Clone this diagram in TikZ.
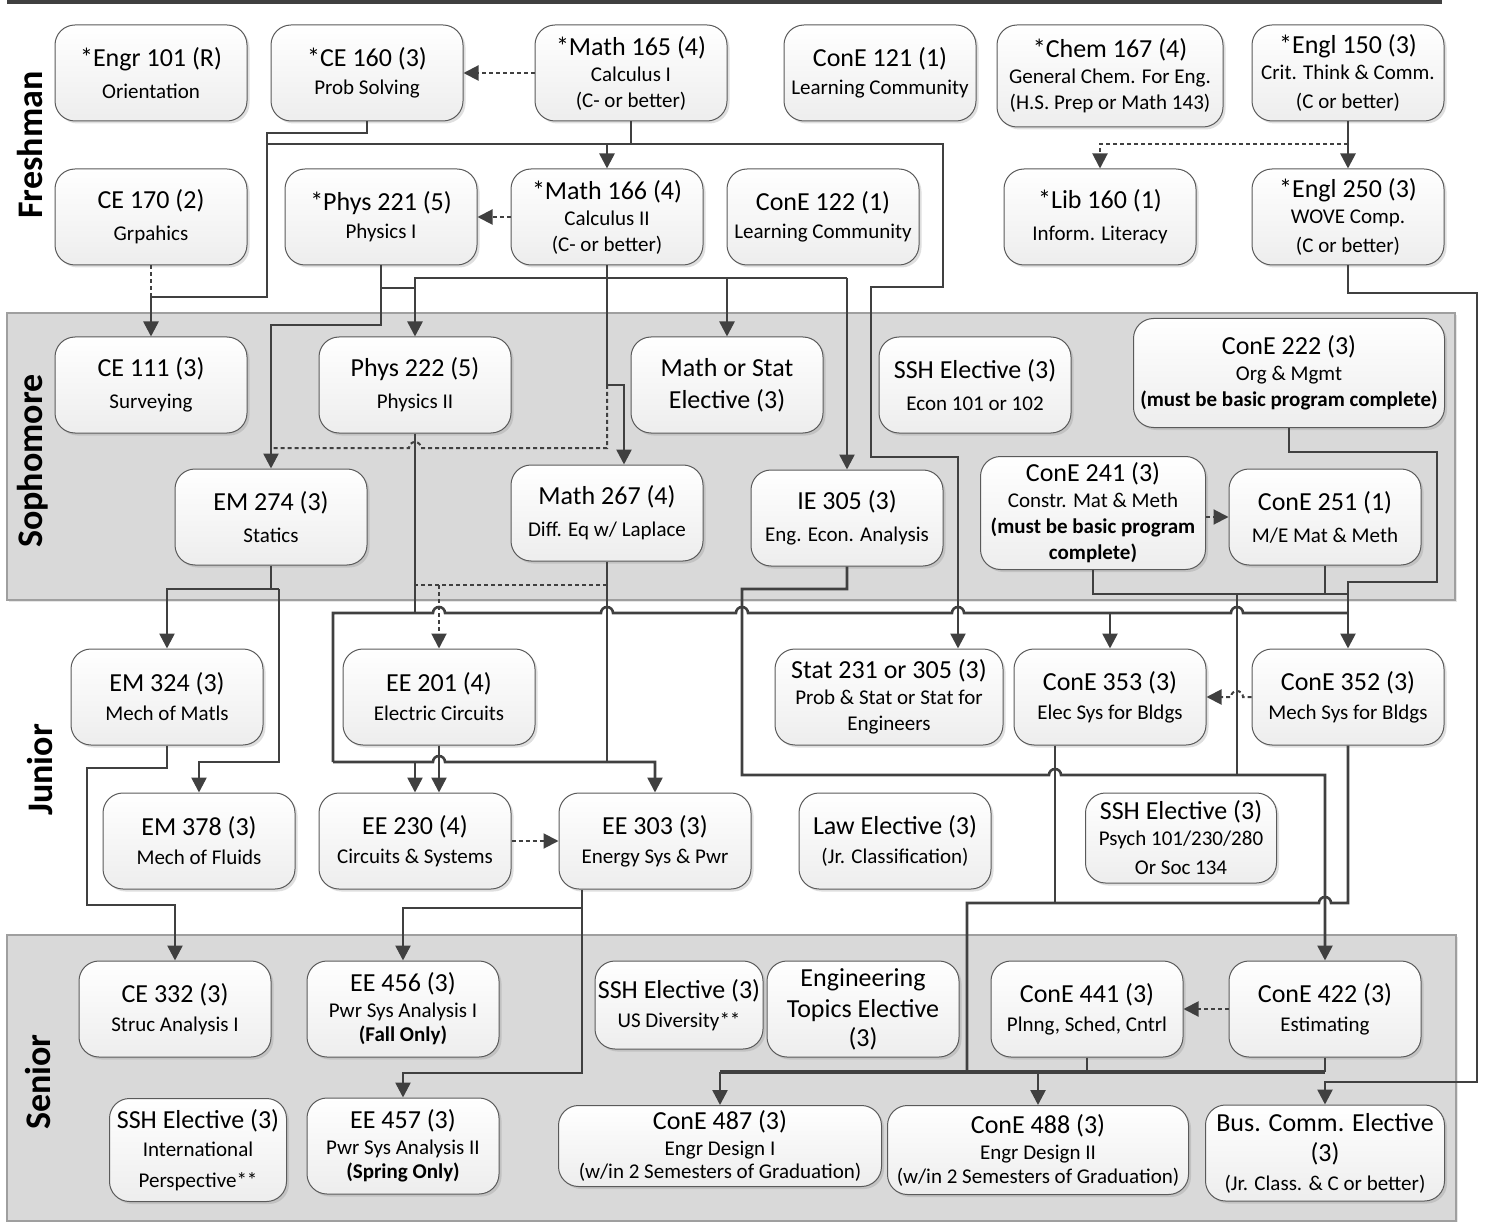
\documentclass[tikz,border=0pt]{standalone}
\usepackage{fontspec}
\setmainfont{Carlito}
\usetikzlibrary{arrows.meta,shadows}
\definecolor{lnc}{HTML}{404040}
\definecolor{bdc}{HTML}{5A5A5A}
\definecolor{bandc}{HTML}{D9D9D9}
\newcommand{\mn}[1]{{\fontsize{26}{30}\selectfont #1}}

\begin{document}
\begin{tikzpicture}[x=1pt, y=-1pt, >={Triangle[length=15pt,width=15pt]},
    crs/.style={draw=bdc, line width=1pt, rounded corners=20pt, top color=white, bottom color=gray!14,
        drop shadow={shadow xshift=2.5pt, shadow yshift=-2.5pt, opacity=.25},
        minimum width=192pt, minimum height=96pt, inner sep=1pt, align=center,
        font=\fontsize{21}{26}\selectfont},
    band/.style={draw=gray!75, line width=1.5pt, fill=bandc,
        drop shadow={shadow xshift=2pt, shadow yshift=-2pt, opacity=.2}},
    yr/.style={rotate=90, font=\fontsize{36}{42}\selectfont\bfseries},
    ln/.style={draw=lnc, line width=2.6pt},
    dl/.style={draw=lnc, line width=2pt, dash pattern=on 4pt off 3pt}]
    \useasboundingbox (0,0) rectangle (1486,1222);
    \fill[lnc] (7,0) rectangle (1442,4);
    \draw[band] (7,313) rectangle (1455,600);
    \draw[band] (7,935) rectangle (1456,1221);
    \node[yr] (fresh) at (30,145) {Freshman};
    \node[yr] (soph) at (33,461) {Sophomore};
    \node[yr] (jun) at (40,770) {Junior};
    \node[yr] (sen) at (38,1082) {Senior};

    % freshman
    \node[crs] (engr101) at (151,73) {\mn{*Engr 101 (R)}\\[6pt]Orientation};
    \node[crs] (ce160) at (367,73) {\mn{*CE 160 (3)}\\[2pt]Prob Solving};
    \node[crs] (math165) at (631,73) {\mn{*Math 165 (4)}\\Calculus I\\(C- or better)};
    \node[crs] (cone121) at (880,73) {\mn{ConE 121 (1)}\\[2pt]Learning Community};
    \node[crs, minimum width=226pt, minimum height=102pt] (chem167) at (1110,76) {\mn{*Chem 167 (4)}\\General Chem. For Eng.\\(H.S. Prep or Math 143)};
    \node[crs] (engl150) at (1348,73) {\mn{*Engl 150 (3)}\\Crit. Think \& Comm.\\[3pt](C or better)};
    \node[crs] (ce170) at (151,217) {\mn{CE 170 (2)}\\[6pt]Grpahics};
    \node[crs] (phys221) at (381,217) {\mn{*Phys 221 (5)}\\[2pt]Physics I};
    \node[crs] (math166) at (607,217) {\mn{*Math 166 (4)}\\Calculus II\\(C- or better)};
    \node[crs] (cone122) at (823,217) {\mn{ConE 122 (1)}\\[2pt]Learning Community};
    \node[crs] (lib160) at (1100,217) {\mn{*Lib 160 (1)}\\[6pt]Inform. Literacy};
    \node[crs] (engl250) at (1348,217) {\mn{*Engl 250 (3)}\\WOVE Comp.\\[3pt](C or better)};

    % sophomore
    \node[crs] (ce111) at (151,385) {\mn{CE 111 (3)}\\[6pt]Surveying};
    \node[crs] (phys222) at (415,385) {\mn{Phys 222 (5)}\\[6pt]Physics II};
    \node[crs] (mathstat) at (727,385) {\mn{Math or Stat}\\[6pt]\mn{Elective (3)}};
    \node[crs] (ssh1) at (975,385) {\mn{SSH Elective (3)}\\[6pt]Econ 101 or 102};
    \node[crs, minimum width=311pt, minimum height=109pt] (cone222) at (1289,373) {\mn{ConE 222 (3)}\\Org \& Mgmt\\\textbf{(must be basic program complete)}};
    \node[crs] (em274) at (271,517) {\mn{EM 274 (3)}\\[6pt]Statics};
    \node[crs] (math267) at (607,513) {\mn{Math 267 (4)}\\[6pt]Diff. Eq w/ Laplace};
    \node[crs] (ie305) at (847,518) {\mn{IE 305 (3)}\\[6pt]Eng. Econ. Analysis};
    \node[crs, minimum width=225pt, minimum height=113pt] (cone241) at (1093,513) {\mn{ConE 241 (3)}\\Constr. Mat \& Meth\\\textbf{(must be basic program}\\\textbf{complete)}};
    \node[crs] (cone251) at (1325,517) {\mn{ConE 251 (1)}\\[6pt]M/E Mat \& Meth};

    % junior
    \node[crs] (em324) at (167,697) {\mn{EM 324 (3)}\\[3pt]Mech of Matls};
    \node[crs] (ee201) at (439,697) {\mn{EE 201 (4)}\\[3pt]Electric Circuits};
    \node[crs, minimum width=228pt] (stat231) at (889,697) {\mn{Stat 231 or 305 (3)}\\Prob \& Stat or Stat for\\Engineers};
    \node[crs] (cone353) at (1110,697) {\mn{ConE 353 (3)}\\[3pt]Elec Sys for Bldgs};
    \node[crs] (cone352) at (1348,697) {\mn{ConE 352 (3)}\\[3pt]Mech Sys for Bldgs};
    \node[crs] (em378) at (199,841) {\mn{EM 378 (3)}\\[3pt]Mech of Fluids};
    \node[crs] (ee230) at (415,841) {\mn{EE 230 (4)}\\[3pt]Circuits \& Systems};
    \node[crs] (ee303) at (655,841) {\mn{EE 303 (3)}\\[3pt]Energy Sys \& Pwr};
    \node[crs] (law) at (895,841) {\mn{Law Elective (3)}\\[3pt](Jr. Classification)};
    \node[crs, minimum width=191pt, minimum height=90pt] (ssh2) at (1181,838) {\mn{SSH Elective (3)}\\Psych 101/230/280\\[3pt]Or Soc 134};

    % senior
    \node[crs] (ce332) at (175,1009) {\mn{CE 332 (3)}\\[3pt]Struc Analysis I};
    \node[crs] (ee456) at (403,1009) {\mn{EE 456 (3)}\\Pwr Sys Analysis I\\[-2pt]\textbf{(Fall Only)}};
    \node[crs, minimum width=168pt, minimum height=88pt] (ssh3) at (679,1005) {\mn{SSH Elective (3)}\\[3pt]US Diversity**};
    \node[crs] (engtop) at (863,1009) {\mn{Engineering}\\[5pt]\mn{Topics Elective}\\[3pt]\mn{(3)}};
    \node[crs] (cone441) at (1087,1009) {\mn{ConE 441 (3)}\\[3pt]Plnng, Sched, Cntrl};
    \node[crs] (cone422) at (1325,1009) {\mn{ConE 422 (3)}\\[3pt]Estimating};
    \node[crs, minimum width=177pt, minimum height=103pt] (ssh4) at (198,1150) {\mn{SSH Elective (3)}\\[2pt]International\\[5pt]Perspective**};
    \node[crs] (ee457) at (403,1146) {\mn{EE 457 (3)}\\Pwr Sys Analysis II\\[-2pt]\textbf{(Spring Only)}};
    \node[crs, minimum width=323pt, minimum height=81pt] (cone487) at (720,1146) {\mn{ConE 487 (3)}\\Engr Design I\\[-3pt](w/in 2 Semesters of Graduation)};
    \node[crs, minimum width=301pt, minimum height=89pt] (cone488) at (1038,1150) {\mn{ConE 488 (3)}\\Engr Design II\\[-2pt](w/in 2 Semesters of Graduation)};
    \node[crs, minimum width=239pt] (buscomm) at (1325,1153) {\mn{Bus. Comm. Elective}\\[4pt]\mn{(3)}\\[3pt](Jr. Class. \& C or better)};

    % freshman links
    \draw[dl,->] (math165.west) -- (ce160.east);
    \draw[dl,->] (math166.west) -- (phys221.east);
    \draw[ln,->] (ce160.south) -- (367,133) -- (267,133) -- (267,297) -- (151,297) -- (ce111.north);
    \draw[dl] (ce170.south) -- (151,297);
    \draw[ln] (math165.south) -- (631,144) -- (267,144);
    \draw[ln,->] (631,144) -- (607,144) -- (math166.north);
    \draw[ln,->] (631,144) -- (943,144) -- (943,287) -- (871,287) -- (871,457) -- (958,457) -- ([xshift=69pt]stat231.north);
    \draw[ln,->] (engl150.south) -- (engl250.north);
    \draw[dl,->] (1348,144) -- (1100,144) -- (lib160.north);
    \draw[ln,->] (engl250.south) -- (1348,293) -- (1477,293) -- (1477,1082) -- (1325,1082) -- (buscomm.north);
    \draw[ln,->] (phys221.south) -- (381,325) -- (271,325) -- (em274.north);
    \draw[ln,->] (381,288) -- (415,288) -- (phys222.north);
    \draw[ln] (415,288) -- (415,278) -- (847,278);
    \draw[ln,->] (727,278) -- (mathstat.north);
    \draw[ln,->] (847,278) -- (ie305.north);
    \draw[ln,->] (math166.south) -- (607,385) -- (624,385) -- ([xshift=17pt]math267.north);
    \draw[dl] (607,385) -- (607,448) -- (421,448) arc[start angle=0, end angle=180, radius=6pt] -- (271,448);

    % sophomore links
    \draw[ln] (phys222.south) -- (415,613);
    \draw[ln] (333,762) -- (333,613) -- (433,613) arc[start angle=180, end angle=0, radius=6pt]
        -- (601,613) arc[start angle=180, end angle=0, radius=6pt]
        -- (736,613) arc[start angle=180, end angle=0, radius=6pt]
        -- (952,613) arc[start angle=180, end angle=0, radius=6pt]
        -- (1231,613) arc[start angle=180, end angle=0, radius=6pt] -- (1348,613);
    \draw[ln,->] (1110,613) -- (cone353.north);
    \draw[dl] (607,585) -- (415,585);
    \draw[dl,->] (439,585) -- (ee201.north);
    \draw[ln] (math267.south) -- (607,762);
    \draw[ln] (em274.south) -- (271,589);
    \draw[ln,->] (279,589) -- (167,589) -- (em324.north);
    \draw[ln,->] (279,589) -- (279,762) -- (199,762) -- (em378.north);
    \draw[ln,->] (ie305.south) -- (847,589) -- (742,589) -- (742,775) -- (1049,775)
        arc[start angle=180, end angle=0, radius=6pt] -- (1325,775) -- (cone422.north);
    \draw[ln,->] (cone222.south) -- (1289,452) -- (1437,452) -- (1437,582) -- (1348,582) -- (cone352.north);
    \draw[ln] (cone241.south) -- (1093,594) -- (1348,594);
    \draw[ln] (cone251.south) -- (1325,594);
    \draw[ln] (1237,594) -- (1237,775);
    \draw[dl,->] (cone241.east |- cone251.west) -- (cone251.west);

    % junior links
    \draw[ln,->] (333,762) -- (433,762) arc[start angle=180, end angle=0, radius=6pt] -- (655,762) -- (ee303.north);
    \draw[ln,->] (415,762) -- (ee230.north);
    \draw[ln,->] (ee201.south) -- (ee201.south |- ee230.north);
    \draw[dl,->] (ee230.east) -- (ee303.west);
    \draw[dl,->] (cone352.west) -- (1243,697) arc[start angle=0, end angle=180, radius=6pt] -- (cone353.east);
    \draw[ln,->] (em324.south) -- (167,768) -- (87,768) -- (87,905) -- (175,905) -- (ce332.north);
    \draw[ln,->] ([xshift=-73pt]ee303.south) -- (582,908) -- (403,908) -- (ee456.north);
    \draw[ln,->] (582,908) -- (582,1073) -- (403,1073) -- (ee457.north);
    \draw[ln] ([xshift=-55pt]cone353.south) -- (1055,903);
    \draw[ln] (cone352.south) -- (1348,903) -- (1331,903) arc[start angle=0, end angle=180, radius=6pt] -- (967,903) -- (967,1072);

    % senior links
    \draw[ln, line width=3.2pt] (720,1072) -- (1325,1072);
    \draw[ln,->] (720,1072) -- (cone487.north);
    \draw[ln,->] (1038,1072) -- (cone488.north);
    \draw[ln] (cone441.south) -- (1087,1072);
    \draw[ln] (cone422.south) -- (1325,1072);
    \draw[dl,->] (cone422.west) -- (cone441.east);
\end{tikzpicture}
\end{document}
